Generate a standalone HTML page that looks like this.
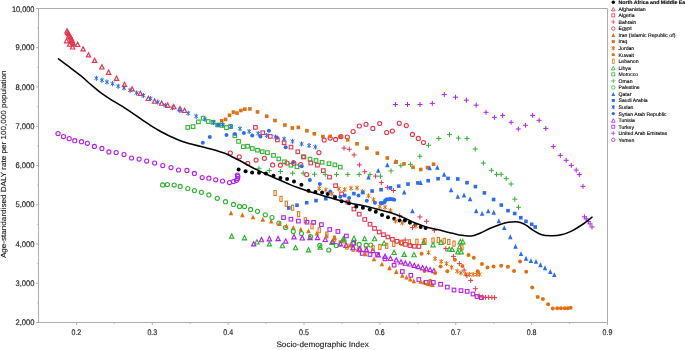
<!DOCTYPE html>
<html><head><meta charset="utf-8"><title>chart</title>
<style>html,body{margin:0;padding:0;background:#fff}svg{display:block}text{font-family:"Liberation Sans",sans-serif;text-rendering:geometricPrecision}</style></head>
<body>
<svg width="685" height="350" viewBox="0 0 685 350" style="will-change:transform;transform:translateZ(0)">
<rect width="685" height="350" fill="#fff"/>
<path d="M38.5 8.5H607.5V322.5H38.5Z" fill="none" stroke="#adadad" stroke-width="1"/>
<path d="M38.5 322.50h-2.4M38.5 302.88h-1.2M38.5 283.25h-2.4M38.5 263.62h-1.2M38.5 244.00h-2.4M38.5 224.38h-1.2M38.5 204.75h-2.4M38.5 185.12h-1.2M38.5 165.50h-2.4M38.5 145.88h-1.2M38.5 126.25h-2.4M38.5 106.62h-1.2M38.5 87.00h-2.4M38.5 67.38h-1.2M38.5 47.75h-2.4M38.5 28.12h-1.2M38.5 8.50h-2.4M76.43 322.5v2.4M114.37 322.5v1.2M152.30 322.5v2.4M190.23 322.5v1.2M228.17 322.5v2.4M266.10 322.5v1.2M304.03 322.5v2.4M341.97 322.5v1.2M379.90 322.5v2.4M417.83 322.5v1.2M455.77 322.5v2.4M493.70 322.5v1.2M531.63 322.5v2.4M569.57 322.5v1.2M607.50 322.5v2.4" fill="none" stroke="#adadad" stroke-width="1"/>
<g font-size="8.1" fill="#1a1a1a" stroke="#1a1a1a" stroke-width="0.15">
<text x="15.5" y="325.0" textLength="19.0" lengthAdjust="spacingAndGlyphs">2,000</text>
<text x="15.5" y="285.8" textLength="19.0" lengthAdjust="spacingAndGlyphs">3,000</text>
<text x="15.5" y="246.5" textLength="19.0" lengthAdjust="spacingAndGlyphs">4,000</text>
<text x="15.5" y="207.2" textLength="19.0" lengthAdjust="spacingAndGlyphs">5,000</text>
<text x="15.5" y="168.0" textLength="19.0" lengthAdjust="spacingAndGlyphs">6,000</text>
<text x="15.5" y="128.8" textLength="19.0" lengthAdjust="spacingAndGlyphs">7,000</text>
<text x="15.5" y="89.5" textLength="19.0" lengthAdjust="spacingAndGlyphs">8,000</text>
<text x="15.5" y="50.2" textLength="19.0" lengthAdjust="spacingAndGlyphs">9,000</text>
<text x="11.9" y="12.1" textLength="22.6" lengthAdjust="spacingAndGlyphs">10,000</text>
<text x="71.5" y="334.8" textLength="9.8" lengthAdjust="spacingAndGlyphs">0.2</text>
<text x="147.4" y="334.8" textLength="9.8" lengthAdjust="spacingAndGlyphs">0.3</text>
<text x="223.3" y="334.8" textLength="9.8" lengthAdjust="spacingAndGlyphs">0.4</text>
<text x="299.1" y="334.8" textLength="9.8" lengthAdjust="spacingAndGlyphs">0.5</text>
<text x="375.0" y="334.8" textLength="9.8" lengthAdjust="spacingAndGlyphs">0.6</text>
<text x="450.9" y="334.8" textLength="9.8" lengthAdjust="spacingAndGlyphs">0.7</text>
<text x="526.7" y="334.8" textLength="9.8" lengthAdjust="spacingAndGlyphs">0.8</text>
<text x="602.6" y="334.8" textLength="9.8" lengthAdjust="spacingAndGlyphs">0.9</text>
</g>
<text x="322.6" y="347.2" font-size="8" fill="#1a1a1a" stroke="#1a1a1a" stroke-width="0.12" text-anchor="middle" textLength="92.3" lengthAdjust="spacingAndGlyphs">Socio-demographic Index</text>
<text transform="translate(6.1 164.3) rotate(-90)" font-size="7.4" fill="#1a1a1a" stroke="#1a1a1a" stroke-width="0.12" text-anchor="middle" textLength="187.5" lengthAdjust="spacingAndGlyphs">Age-standardised DALY rate per 100,000 population</text>
<g><circle cx="58" cy="133.5" r="2.05" fill="none" stroke="#b31ff2" stroke-width="1.1"/><circle cx="63.5" cy="136.6" r="2.05" fill="none" stroke="#b31ff2" stroke-width="1.1"/><path d="M66.6 38.6L68.75 42.8L64.45 42.8Z" fill="none" stroke="#e8334c" stroke-width="1.15"/><path d="M67 28.8L69.15 33L64.85 33Z" fill="none" stroke="#e8334c" stroke-width="1.15"/><path d="M67.6 30.1L69.75 34.3L65.45 34.3Z" fill="none" stroke="#e8334c" stroke-width="1.15"/><path d="M68.4 31.5L70.55 35.7L66.25 35.7Z" fill="none" stroke="#e8334c" stroke-width="1.15"/><path d="M69.2 32.9L71.35 37.1L67.05 37.1Z" fill="none" stroke="#e8334c" stroke-width="1.15"/><circle cx="69.2" cy="138.6" r="2.05" fill="none" stroke="#b31ff2" stroke-width="1.1"/><path d="M69.6 42L71.75 46.2L67.45 46.2Z" fill="none" stroke="#e8334c" stroke-width="1.15"/><path d="M70 34.3L72.15 38.5L67.85 38.5Z" fill="none" stroke="#e8334c" stroke-width="1.15"/><path d="M70.8 35.7L72.95 39.9L68.65 39.9Z" fill="none" stroke="#e8334c" stroke-width="1.15"/><path d="M71.5 37.1L73.65 41.3L69.35 41.3Z" fill="none" stroke="#e8334c" stroke-width="1.15"/><path d="M72.1 38.5L74.25 42.7L69.95 42.7Z" fill="none" stroke="#e8334c" stroke-width="1.15"/><path d="M72.6 40.1L74.75 44.3L70.45 44.3Z" fill="none" stroke="#e8334c" stroke-width="1.15"/><path d="M72.6 44.8L74.75 49L70.45 49Z" fill="none" stroke="#e8334c" stroke-width="1.15"/><path d="M73.2 41.7L75.35 45.9L71.05 45.9Z" fill="none" stroke="#e8334c" stroke-width="1.15"/><circle cx="74.7" cy="140.7" r="2.05" fill="none" stroke="#b31ff2" stroke-width="1.1"/><path d="M77.6 42.3L79.75 46.5L75.45 46.5Z" fill="none" stroke="#e8334c" stroke-width="1.15"/><circle cx="81.5" cy="141.7" r="2.05" fill="none" stroke="#b31ff2" stroke-width="1.1"/><path d="M83.1 46.7L85.25 50.9L80.95 50.9Z" fill="none" stroke="#e8334c" stroke-width="1.15"/><circle cx="87.4" cy="143.3" r="2.05" fill="none" stroke="#b31ff2" stroke-width="1.1"/><path d="M88.5 52.7L90.65 56.9L86.35 56.9Z" fill="none" stroke="#e8334c" stroke-width="1.15"/><circle cx="94.4" cy="146.4" r="2.05" fill="none" stroke="#b31ff2" stroke-width="1.1"/><path d="M94.6 58.2L96.75 62.4L92.45 62.4Z" fill="none" stroke="#e8334c" stroke-width="1.15"/><path d="M96.4 75.7V80.7" fill="none" stroke="#2b6cf2" stroke-width="1.15"/><path d="M94.45 76.65L98.35 79.75M94.45 79.75L98.35 76.65" fill="none" stroke="#2b6cf2" stroke-width="1"/><path d="M101.9 64.8L104.05 69L99.75 69Z" fill="none" stroke="#e8334c" stroke-width="1.15"/><path d="M101.9 77.7V82.7" fill="none" stroke="#2b6cf2" stroke-width="1.15"/><path d="M99.95 78.65L103.85 81.75M99.95 81.75L103.85 78.65" fill="none" stroke="#2b6cf2" stroke-width="1"/><circle cx="101.9" cy="148.4" r="2.05" fill="none" stroke="#b31ff2" stroke-width="1.1"/><path d="M107 79.6V84.6" fill="none" stroke="#2b6cf2" stroke-width="1.15"/><path d="M105.05 80.55L108.95 83.65M105.05 83.65L108.95 80.55" fill="none" stroke="#2b6cf2" stroke-width="1"/><path d="M108.6 70.1L110.75 74.3L106.45 74.3Z" fill="none" stroke="#e8334c" stroke-width="1.15"/><circle cx="108.9" cy="151.9" r="2.05" fill="none" stroke="#b31ff2" stroke-width="1.1"/><path d="M112.5 81.2V86.2" fill="none" stroke="#2b6cf2" stroke-width="1.15"/><path d="M110.55 82.15L114.45 85.25M110.55 85.25L114.45 82.15" fill="none" stroke="#2b6cf2" stroke-width="1"/><circle cx="116.2" cy="152.5" r="2.05" fill="none" stroke="#b31ff2" stroke-width="1.1"/><path d="M116.5 76.1L118.65 80.3L114.35 80.3Z" fill="none" stroke="#e8334c" stroke-width="1.15"/><path d="M118.2 83.7V88.7" fill="none" stroke="#2b6cf2" stroke-width="1.15"/><path d="M116.25 84.65L120.15 87.75M116.25 87.75L120.15 84.65" fill="none" stroke="#2b6cf2" stroke-width="1"/><path d="M124 85.5V90.5" fill="none" stroke="#2b6cf2" stroke-width="1.15"/><path d="M122.05 86.45L125.95 89.55M122.05 89.55L125.95 86.45" fill="none" stroke="#2b6cf2" stroke-width="1"/><circle cx="124" cy="154.6" r="2.05" fill="none" stroke="#b31ff2" stroke-width="1.1"/><path d="M124.5 82.2L126.65 86.4L122.35 86.4Z" fill="none" stroke="#e8334c" stroke-width="1.15"/><path d="M130.1 87.8V92.8" fill="none" stroke="#2b6cf2" stroke-width="1.15"/><path d="M128.15 88.75L132.05 91.85M128.15 91.85L132.05 88.75" fill="none" stroke="#2b6cf2" stroke-width="1"/><circle cx="131.6" cy="158" r="2.05" fill="none" stroke="#b31ff2" stroke-width="1.1"/></g>
<g><path d="M132.1 86.7L134.25 90.9L129.95 90.9Z" fill="none" stroke="#e8334c" stroke-width="1.15"/><path d="M136.6 90.4V95.4" fill="none" stroke="#2b6cf2" stroke-width="1.15"/><path d="M134.65 91.35L138.55 94.45M134.65 94.45L138.55 91.35" fill="none" stroke="#2b6cf2" stroke-width="1"/><circle cx="139.1" cy="159.1" r="2.05" fill="none" stroke="#b31ff2" stroke-width="1.1"/><path d="M140.3 91.2L142.45 95.4L138.15 95.4Z" fill="none" stroke="#e8334c" stroke-width="1.15"/><path d="M143.4 92.9V97.9" fill="none" stroke="#2b6cf2" stroke-width="1.15"/><path d="M141.45 93.85L145.35 96.95M141.45 96.95L145.35 93.85" fill="none" stroke="#2b6cf2" stroke-width="1"/><circle cx="146.7" cy="161.1" r="2.05" fill="none" stroke="#b31ff2" stroke-width="1.1"/><path d="M148.3 96.3L150.45 100.5L146.15 100.5Z" fill="none" stroke="#e8334c" stroke-width="1.15"/><path d="M150.5 96.1V101.1" fill="none" stroke="#2b6cf2" stroke-width="1.15"/><path d="M148.55 97.05L152.45 100.15M148.55 100.15L152.45 97.05" fill="none" stroke="#2b6cf2" stroke-width="1"/><path d="M154.6 99L156.75 103.2L152.45 103.2Z" fill="none" stroke="#e8334c" stroke-width="1.15"/><circle cx="154.6" cy="163" r="2.05" fill="none" stroke="#b31ff2" stroke-width="1.1"/><path d="M157.7 99.6V104.6" fill="none" stroke="#2b6cf2" stroke-width="1.15"/><path d="M155.75 100.55L159.65 103.65M155.75 103.65L159.65 100.55" fill="none" stroke="#2b6cf2" stroke-width="1"/><path d="M161.6 101L163.75 105.2L159.45 105.2Z" fill="none" stroke="#e8334c" stroke-width="1.15"/><circle cx="162.6" cy="184.9" r="2.05" fill="none" stroke="#2db52d" stroke-width="1.1"/><circle cx="162.8" cy="165.6" r="2.05" fill="none" stroke="#b31ff2" stroke-width="1.1"/><path d="M165.3 102.7V107.7" fill="none" stroke="#2b6cf2" stroke-width="1.15"/><path d="M163.35 103.65L167.25 106.75M163.35 106.75L167.25 103.65" fill="none" stroke="#2b6cf2" stroke-width="1"/><circle cx="167.4" cy="184.5" r="2.05" fill="none" stroke="#2db52d" stroke-width="1.1"/><path d="M167.7 103.1L169.85 107.3L165.55 107.3Z" fill="none" stroke="#e8334c" stroke-width="1.15"/><circle cx="171" cy="167.6" r="2.05" fill="none" stroke="#b31ff2" stroke-width="1.1"/><path d="M172.4 105.3V110.3" fill="none" stroke="#2b6cf2" stroke-width="1.15"/><path d="M170.45 106.25L174.35 109.35M170.45 109.35L174.35 106.25" fill="none" stroke="#2b6cf2" stroke-width="1"/><path d="M173.8 104.5L175.95 108.7L171.65 108.7Z" fill="none" stroke="#e8334c" stroke-width="1.15"/><circle cx="174.2" cy="185.1" r="2.05" fill="none" stroke="#2db52d" stroke-width="1.1"/><circle cx="178.5" cy="170" r="2.05" fill="none" stroke="#b31ff2" stroke-width="1.1"/><path d="M180 106.5L182.15 110.7L177.85 110.7Z" fill="none" stroke="#e8334c" stroke-width="1.15"/><path d="M180 108V113" fill="none" stroke="#2b6cf2" stroke-width="1.15"/><path d="M178.05 108.95L181.95 112.05M178.05 112.05L181.95 108.95" fill="none" stroke="#2b6cf2" stroke-width="1"/><circle cx="180.2" cy="186.4" r="2.05" fill="none" stroke="#2db52d" stroke-width="1.1"/><path d="M184.5 108.3L186.65 112.5L182.35 112.5Z" fill="none" stroke="#e8334c" stroke-width="1.15"/><circle cx="186.9" cy="170.4" r="2.05" fill="none" stroke="#b31ff2" stroke-width="1.1"/><rect x="186" y="125.6" width="3.6" height="3.6" fill="none" stroke="#2db52d" stroke-width="1.1"/><circle cx="187.8" cy="188.5" r="2.05" fill="none" stroke="#2db52d" stroke-width="1.1"/><path d="M188.2 110.7V115.7" fill="none" stroke="#2b6cf2" stroke-width="1.15"/><path d="M186.25 111.65L190.15 114.75M186.25 114.75L190.15 111.65" fill="none" stroke="#2b6cf2" stroke-width="1"/><rect x="191.3" y="124.8" width="3.6" height="3.6" fill="none" stroke="#2db52d" stroke-width="1.1"/><circle cx="194.4" cy="190.5" r="2.05" fill="none" stroke="#2db52d" stroke-width="1.1"/><circle cx="194.4" cy="173.4" r="2.05" fill="none" stroke="#b31ff2" stroke-width="1.1"/><path d="M196.2 113.8V118.8" fill="none" stroke="#2b6cf2" stroke-width="1.15"/><path d="M194.25 114.75L198.15 117.85M194.25 117.85L198.15 114.75" fill="none" stroke="#2b6cf2" stroke-width="1"/><rect x="196.6" y="120.1" width="3.6" height="3.6" fill="none" stroke="#2db52d" stroke-width="1.1"/><circle cx="201.4" cy="192.3" r="2.05" fill="none" stroke="#2db52d" stroke-width="1.1"/><circle cx="202.2" cy="177.6" r="2.05" fill="none" stroke="#b31ff2" stroke-width="1.1"/><circle cx="202.8" cy="142.8" r="2" fill="#2b6cf2"/><rect x="201.3" y="116.4" width="3.6" height="3.6" fill="none" stroke="#2db52d" stroke-width="1.1"/><path d="M204.9 116.8V121.8" fill="none" stroke="#2b6cf2" stroke-width="1.15"/><path d="M202.95 117.75L206.85 120.85M202.95 120.85L206.85 117.75" fill="none" stroke="#2b6cf2" stroke-width="1"/></g>
<g><rect x="206.4" y="119.7" width="3.6" height="3.6" fill="none" stroke="#2db52d" stroke-width="1.1"/><circle cx="208.9" cy="194.9" r="2.05" fill="none" stroke="#2db52d" stroke-width="1.1"/><circle cx="208.9" cy="178.2" r="2.05" fill="none" stroke="#b31ff2" stroke-width="1.1"/><circle cx="209.8" cy="137.1" r="2" fill="#2b6cf2"/><rect x="211.2" y="120.4" width="3.6" height="3.6" fill="none" stroke="#2db52d" stroke-width="1.1"/><path d="M213.4 119.9V124.9" fill="none" stroke="#2b6cf2" stroke-width="1.15"/><path d="M211.45 120.85L215.35 123.95M211.45 123.95L215.35 120.85" fill="none" stroke="#2b6cf2" stroke-width="1"/><circle cx="215.7" cy="179.8" r="2.05" fill="none" stroke="#b31ff2" stroke-width="1.1"/><circle cx="217.3" cy="198.3" r="2.05" fill="none" stroke="#2db52d" stroke-width="1.1"/><rect x="215.8" y="123.2" width="3.6" height="3.6" fill="none" stroke="#2db52d" stroke-width="1.1"/><circle cx="218" cy="125.1" r="2" fill="#2b6cf2"/><rect x="219.9" y="119" width="3.6" height="3.6" fill="#e0700f"/><rect x="220.3" y="123.6" width="3.6" height="3.6" fill="none" stroke="#2db52d" stroke-width="1.1"/><circle cx="222.5" cy="181" r="2.05" fill="none" stroke="#b31ff2" stroke-width="1.1"/><path d="M222.6 122.2V127.2" fill="none" stroke="#2b6cf2" stroke-width="1.15"/><path d="M220.65 123.15L224.55 126.25M220.65 126.25L224.55 123.15" fill="none" stroke="#2b6cf2" stroke-width="1"/><circle cx="225.5" cy="201.7" r="2.05" fill="none" stroke="#2db52d" stroke-width="1.1"/><rect x="223.8" y="117.6" width="3.6" height="3.6" fill="#e0700f"/><rect x="224.7" y="125.8" width="3.6" height="3.6" fill="none" stroke="#2db52d" stroke-width="1.1"/><circle cx="226.5" cy="134.9" r="2" fill="#2b6cf2"/><rect x="227.7" y="113.5" width="3.6" height="3.6" fill="#e0700f"/><circle cx="229.5" cy="182.6" r="2.05" fill="none" stroke="#b31ff2" stroke-width="1.1"/><circle cx="230.3" cy="153" r="2.05" fill="none" stroke="#e8334c" stroke-width="1.1"/><rect x="228.7" y="124.8" width="3.6" height="3.6" fill="none" stroke="#2db52d" stroke-width="1.1"/><path d="M231 210.35L233.25 215.25L228.75 215.25Z" fill="#e0700f"/><path d="M231 124.1V129.1" fill="none" stroke="#2b6cf2" stroke-width="1.15"/><path d="M229.05 125.05L232.95 128.15M229.05 128.15L232.95 125.05" fill="none" stroke="#2b6cf2" stroke-width="1"/><path d="M231.7 233.9L233.85 238.1L229.55 238.1Z" fill="none" stroke="#2db52d" stroke-width="1.15"/><rect x="231.6" y="110.3" width="3.6" height="3.6" fill="#e0700f"/><circle cx="233.5" cy="204.4" r="2.05" fill="none" stroke="#2db52d" stroke-width="1.1"/><circle cx="233.5" cy="181.6" r="2.05" fill="none" stroke="#b31ff2" stroke-width="1.1"/><rect x="233" y="133.8" width="3.6" height="3.6" fill="none" stroke="#2db52d" stroke-width="1.1"/><circle cx="234.9" cy="134" r="2" fill="#2b6cf2"/><circle cx="236.4" cy="180.3" r="2.05" fill="none" stroke="#b31ff2" stroke-width="1.1"/><rect x="235.2" y="111.3" width="3.6" height="3.6" fill="#e0700f"/><circle cx="237.4" cy="175" r="2.05" fill="none" stroke="#b31ff2" stroke-width="1.1"/><circle cx="237.6" cy="178.4" r="2.05" fill="none" stroke="#b31ff2" stroke-width="1.1"/><circle cx="237.9" cy="176.3" r="2.05" fill="none" stroke="#b31ff2" stroke-width="1.1"/><rect x="236.7" y="139.6" width="3.6" height="3.6" fill="none" stroke="#2db52d" stroke-width="1.1"/><circle cx="238.6" cy="169.6" r="2" fill="#000"/><circle cx="239.3" cy="156.8" r="2.05" fill="none" stroke="#e8334c" stroke-width="1.1"/><circle cx="239.5" cy="206.4" r="2.05" fill="none" stroke="#2db52d" stroke-width="1.1"/><path d="M240 126.2V131.2" fill="none" stroke="#2b6cf2" stroke-width="1.15"/><path d="M238.05 127.15L241.95 130.25M238.05 130.25L241.95 127.15" fill="none" stroke="#2b6cf2" stroke-width="1"/></g>
<g><rect x="239.1" y="108.7" width="3.6" height="3.6" fill="#e0700f"/><path d="M242.4 212.35L244.65 217.25L240.15 217.25Z" fill="#e0700f"/><rect x="241.5" y="144.9" width="3.6" height="3.6" fill="none" stroke="#2db52d" stroke-width="1.1"/><circle cx="243.9" cy="133.1" r="2" fill="#2b6cf2"/><path d="M244.5 235.6L246.65 239.8L242.35 239.8Z" fill="none" stroke="#2db52d" stroke-width="1.15"/><circle cx="244.5" cy="206.6" r="2.05" fill="none" stroke="#2db52d" stroke-width="1.1"/><rect x="243" y="107.4" width="3.6" height="3.6" fill="#e0700f"/><circle cx="245.6" cy="171.3" r="2" fill="#000"/><rect x="245.8" y="144.4" width="3.6" height="3.6" fill="none" stroke="#2db52d" stroke-width="1.1"/><circle cx="247.7" cy="163.3" r="2.05" fill="none" stroke="#e8334c" stroke-width="1.1"/><path d="M249.2 128.9V133.9" fill="none" stroke="#2b6cf2" stroke-width="1.15"/><path d="M247.25 129.85L251.15 132.95M247.25 132.95L251.15 129.85" fill="none" stroke="#2b6cf2" stroke-width="1"/><rect x="248.1" y="107.1" width="3.6" height="3.6" fill="#e0700f"/><circle cx="250.6" cy="209.4" r="2.05" fill="none" stroke="#2db52d" stroke-width="1.1"/><circle cx="252.1" cy="172.4" r="2" fill="#000"/><circle cx="252.2" cy="135.6" r="2" fill="#2b6cf2"/><rect x="250.5" y="146.7" width="3.6" height="3.6" fill="none" stroke="#2db52d" stroke-width="1.1"/><path d="M253 214.45L255.25 219.35L250.75 219.35Z" fill="#e0700f"/><path d="M253.7 241.7L255.85 245.9L251.55 245.9Z" fill="none" stroke="#b31ff2" stroke-width="1.15"/><rect x="253.6" y="125.6" width="3.6" height="3.6" fill="none" stroke="#e8334c" stroke-width="1.1"/><circle cx="256.1" cy="160.1" r="2.05" fill="none" stroke="#e8334c" stroke-width="1.1"/><path d="M256.9 239.8L259.05 244L254.75 244Z" fill="none" stroke="#2db52d" stroke-width="1.15"/><rect x="255.7" y="110.1" width="3.6" height="3.6" fill="#e0700f"/><rect x="255.7" y="148.4" width="3.6" height="3.6" fill="none" stroke="#2db52d" stroke-width="1.1"/><circle cx="257.5" cy="211.3" r="2.05" fill="none" stroke="#2db52d" stroke-width="1.1"/><path d="M258.2 130.9V135.9" fill="none" stroke="#2b6cf2" stroke-width="1.15"/><path d="M256.25 131.85L260.15 134.95M256.25 134.95L260.15 131.85" fill="none" stroke="#2b6cf2" stroke-width="1"/><circle cx="259" cy="172.8" r="2" fill="#000"/><path d="M256.5 168.3H261.5M259 165.8V170.8" fill="none" stroke="#2db52d" stroke-width="1"/><circle cx="260.4" cy="136.5" r="2" fill="#2b6cf2"/><path d="M261.5 237.5L263.65 241.7L259.35 241.7Z" fill="none" stroke="#b31ff2" stroke-width="1.15"/><rect x="260.4" y="149.9" width="3.6" height="3.6" fill="none" stroke="#2db52d" stroke-width="1.1"/><rect x="261" y="130.9" width="3.6" height="3.6" fill="none" stroke="#e8334c" stroke-width="1.1"/><path d="M262.8 216.75L265.05 221.65L260.55 221.65Z" fill="#e0700f"/><circle cx="264.4" cy="158.3" r="2.05" fill="none" stroke="#e8334c" stroke-width="1.1"/><circle cx="265.3" cy="214.8" r="2.05" fill="none" stroke="#2db52d" stroke-width="1.1"/><circle cx="265.9" cy="173.4" r="2" fill="#000"/><rect x="264.9" y="114.4" width="3.6" height="3.6" fill="#e0700f"/><path d="M266.7 132.9V137.9" fill="none" stroke="#2b6cf2" stroke-width="1.15"/><path d="M264.75 133.85L268.65 136.95M264.75 136.95L268.65 133.85" fill="none" stroke="#2b6cf2" stroke-width="1"/><rect x="265.6" y="150.8" width="3.6" height="3.6" fill="none" stroke="#2db52d" stroke-width="1.1"/><circle cx="268.9" cy="130.8" r="2" fill="#2b6cf2"/><path d="M266.8 170.6H271.8M269.3 168.1V173.1" fill="none" stroke="#2db52d" stroke-width="1"/></g>
<g><path d="M269.4 241.7L271.55 245.9L267.25 245.9Z" fill="none" stroke="#2db52d" stroke-width="1.15"/><path d="M269.4 236.6L271.55 240.8L267.25 240.8Z" fill="none" stroke="#b31ff2" stroke-width="1.15"/><rect x="268.5" y="134.6" width="3.6" height="3.6" fill="none" stroke="#e8334c" stroke-width="1.1"/><path d="M271.2 218.65L273.45 223.55L268.95 223.55Z" fill="#e0700f"/><circle cx="272" cy="217.6" r="2.05" fill="none" stroke="#2db52d" stroke-width="1.1"/><circle cx="272.6" cy="164.9" r="2.05" fill="none" stroke="#e8334c" stroke-width="1.1"/><circle cx="273.5" cy="175.7" r="2" fill="#000"/><rect x="271.7" y="153.6" width="3.6" height="3.6" fill="none" stroke="#2db52d" stroke-width="1.1"/><rect x="273.2" y="118.7" width="3.6" height="3.6" fill="#e0700f"/><rect x="273.98" y="190.45" width="2.24" height="5.1" fill="none" stroke="#e0700f" stroke-width="1"/><path d="M275.4 134.5V139.5" fill="none" stroke="#2b6cf2" stroke-width="1.15"/><path d="M273.45 135.45L277.35 138.55M273.45 138.55L277.35 135.45" fill="none" stroke="#2b6cf2" stroke-width="1"/><circle cx="277" cy="137.8" r="2" fill="#2b6cf2"/><rect x="275.6" y="138.1" width="3.6" height="3.6" fill="none" stroke="#e8334c" stroke-width="1.1"/><path d="M278.1 236.4L280.25 240.6L275.95 240.6Z" fill="none" stroke="#b31ff2" stroke-width="1.15"/><rect x="277" y="157.1" width="3.6" height="3.6" fill="none" stroke="#2db52d" stroke-width="1.1"/><circle cx="278.9" cy="223" r="2.05" fill="none" stroke="#2db52d" stroke-width="1.1"/><path d="M279.4 221.05L281.65 225.95L277.15 225.95Z" fill="#e0700f"/><circle cx="280.4" cy="178" r="2" fill="#000"/><circle cx="280.4" cy="165.2" r="2.05" fill="none" stroke="#e8334c" stroke-width="1.1"/><path d="M277.9 171.5H282.9M280.4 169V174" fill="none" stroke="#2db52d" stroke-width="1"/><rect x="279.88" y="196.35" width="2.24" height="5.1" fill="none" stroke="#e0700f" stroke-width="1"/><path d="M282.4 243.5L284.55 247.7L280.25 247.7Z" fill="none" stroke="#2db52d" stroke-width="1.15"/><rect x="281.7" y="215.8" width="3.6" height="3.6" fill="none" stroke="#b31ff2" stroke-width="1.1"/><rect x="282.3" y="141" width="3.6" height="3.6" fill="none" stroke="#e8334c" stroke-width="1.1"/><path d="M284.1 136.4V141.4" fill="none" stroke="#2b6cf2" stroke-width="1.15"/><path d="M282.15 137.35L286.05 140.45M282.15 140.45L286.05 137.35" fill="none" stroke="#2b6cf2" stroke-width="1"/><rect x="282.7" y="160" width="3.6" height="3.6" fill="none" stroke="#2db52d" stroke-width="1.1"/><rect x="283.1" y="123.2" width="3.6" height="3.6" fill="#e0700f"/><circle cx="285.5" cy="227.6" r="2.05" fill="none" stroke="#2db52d" stroke-width="1.1"/><circle cx="285.7" cy="147.3" r="2" fill="#2b6cf2"/><path d="M285.7 238.9L287.85 243.1L283.55 243.1Z" fill="none" stroke="#b31ff2" stroke-width="1.15"/><rect x="285.18" y="201.15" width="2.24" height="5.1" fill="none" stroke="#e0700f" stroke-width="1"/><path d="M286.4 223.45L288.65 228.35L284.15 228.35Z" fill="#e0700f"/><circle cx="287" cy="163" r="2.05" fill="none" stroke="#e8334c" stroke-width="1.1"/><circle cx="287.1" cy="178.9" r="2" fill="#000"/><rect x="287" y="206.2" width="3.6" height="3.6" fill="#2b6cf2"/><rect x="289.1" y="163.4" width="3.6" height="3.6" fill="none" stroke="#2db52d" stroke-width="1.1"/><rect x="289.1" y="217.4" width="3.6" height="3.6" fill="none" stroke="#b31ff2" stroke-width="1.1"/><rect x="289.2" y="145.3" width="3.6" height="3.6" fill="none" stroke="#e8334c" stroke-width="1.1"/><rect x="290.6" y="126.2" width="3.6" height="3.6" fill="#e0700f"/><path d="M292.5 138.7V143.7" fill="none" stroke="#2b6cf2" stroke-width="1.15"/><path d="M290.55 139.65L294.45 142.75M290.55 142.75L294.45 139.65" fill="none" stroke="#2b6cf2" stroke-width="1"/></g>
<g><rect x="291.48" y="205.15" width="2.24" height="5.1" fill="none" stroke="#e0700f" stroke-width="1"/><path d="M290.1 173.2H295.1M292.6 170.7V175.7" fill="none" stroke="#2db52d" stroke-width="1"/><path d="M293.3 224.95L295.55 229.85L291.05 229.85Z" fill="#e0700f"/><circle cx="293.3" cy="231.4" r="2.05" fill="none" stroke="#2db52d" stroke-width="1.1"/><circle cx="293.4" cy="162" r="2" fill="#2b6cf2"/><circle cx="293.8" cy="163.2" r="2.05" fill="none" stroke="#e8334c" stroke-width="1.1"/><circle cx="294" cy="181.6" r="2" fill="#000"/><path d="M294 234.6L296.15 238.8L291.85 238.8Z" fill="none" stroke="#b31ff2" stroke-width="1.15"/><path d="M295.5 245.5L297.65 249.7L293.35 249.7Z" fill="none" stroke="#2db52d" stroke-width="1.15"/><rect x="295.2" y="165" width="3.6" height="3.6" fill="none" stroke="#2db52d" stroke-width="1.1"/><rect x="295.2" y="203.4" width="3.6" height="3.6" fill="#2b6cf2"/><rect x="296" y="150" width="3.6" height="3.6" fill="none" stroke="#e8334c" stroke-width="1.1"/><rect x="296.5" y="125.6" width="3.6" height="3.6" fill="#e0700f"/><rect x="296.6" y="219.3" width="3.6" height="3.6" fill="none" stroke="#b31ff2" stroke-width="1.1"/><rect x="297.48" y="211.65" width="2.24" height="5.1" fill="none" stroke="#e0700f" stroke-width="1"/><circle cx="300.7" cy="164.6" r="2.05" fill="none" stroke="#e8334c" stroke-width="1.1"/><path d="M300.8 226.65L303.05 231.55L298.55 231.55Z" fill="#e0700f"/><circle cx="301.4" cy="184.7" r="2" fill="#000"/><circle cx="301.5" cy="233.6" r="2.05" fill="none" stroke="#2db52d" stroke-width="1.1"/><path d="M301.6 141.5V146.5" fill="none" stroke="#2b6cf2" stroke-width="1.15"/><path d="M299.65 142.45L303.55 145.55M299.65 145.55L303.55 142.45" fill="none" stroke="#2b6cf2" stroke-width="1"/><circle cx="301.7" cy="166.3" r="2" fill="#2b6cf2"/><path d="M302.3 235.8L304.45 240L300.15 240Z" fill="none" stroke="#b31ff2" stroke-width="1.15"/><rect x="301.4" y="155.1" width="3.6" height="3.6" fill="none" stroke="#2db52d" stroke-width="1.1"/><path d="M300.7 173.1H305.7M303.2 170.6V175.6" fill="none" stroke="#2db52d" stroke-width="1"/><rect x="302.1" y="155.1" width="3.6" height="3.6" fill="none" stroke="#e8334c" stroke-width="1.1"/><rect x="304.18" y="217.75" width="2.24" height="5.1" fill="none" stroke="#e0700f" stroke-width="1"/><circle cx="306.7" cy="174.5" r="2.05" fill="none" stroke="#e8334c" stroke-width="1.1"/><rect x="304.9" y="200.9" width="3.6" height="3.6" fill="#2b6cf2"/><rect x="305.1" y="128.9" width="3.6" height="3.6" fill="#e0700f"/><rect x="305.2" y="220.4" width="3.6" height="3.6" fill="none" stroke="#b31ff2" stroke-width="1.1"/><circle cx="308.5" cy="190.7" r="2" fill="#000"/><path d="M308.5 228.35L310.75 233.25L306.25 233.25Z" fill="#e0700f"/><path d="M308.5 247.7L310.65 251.9L306.35 251.9Z" fill="none" stroke="#2db52d" stroke-width="1.15"/><path d="M309.1 143.1V148.1" fill="none" stroke="#2b6cf2" stroke-width="1.15"/><path d="M307.15 144.05L311.05 147.15M307.15 147.15L311.05 144.05" fill="none" stroke="#2b6cf2" stroke-width="1"/><circle cx="309.9" cy="180.1" r="2" fill="#2b6cf2"/><rect x="308.2" y="157.3" width="3.6" height="3.6" fill="none" stroke="#2db52d" stroke-width="1.1"/><path d="M310 235.4L312.15 239.6L307.85 239.6Z" fill="none" stroke="#b31ff2" stroke-width="1.15"/><circle cx="310.5" cy="236.5" r="2.05" fill="none" stroke="#2db52d" stroke-width="1.1"/><rect x="308.9" y="161.2" width="3.6" height="3.6" fill="none" stroke="#e8334c" stroke-width="1.1"/><rect x="310.88" y="223.65" width="2.24" height="5.1" fill="none" stroke="#e0700f" stroke-width="1"/></g>
<g><rect x="311.8" y="220.6" width="3.6" height="3.6" fill="none" stroke="#b31ff2" stroke-width="1.1"/><rect x="312.5" y="132" width="3.6" height="3.6" fill="#e0700f"/><path d="M312 174.2H317M314.5 171.7V176.7" fill="none" stroke="#2db52d" stroke-width="1"/><circle cx="315.4" cy="192" r="2" fill="#000"/><path d="M315.4 144.5V149.5" fill="none" stroke="#2b6cf2" stroke-width="1.15"/><path d="M313.45 145.45L317.35 148.55M313.45 148.55L317.35 145.45" fill="none" stroke="#2b6cf2" stroke-width="1"/><rect x="314.2" y="158.7" width="3.6" height="3.6" fill="none" stroke="#2db52d" stroke-width="1.1"/><rect x="314.2" y="198.8" width="3.6" height="3.6" fill="#2b6cf2"/><path d="M316.9 230.55L319.15 235.45L314.65 235.45Z" fill="#e0700f"/><rect x="315.6" y="163.4" width="3.6" height="3.6" fill="none" stroke="#e8334c" stroke-width="1.1"/><path d="M317.5 235.4L319.65 239.6L315.35 239.6Z" fill="none" stroke="#b31ff2" stroke-width="1.15"/><circle cx="318.9" cy="152.6" r="2.05" fill="none" stroke="#e8334c" stroke-width="1.1"/><path d="M319.2 186V191" fill="none" stroke="#e0700f" stroke-width="1.15"/><path d="M317.25 186.95L321.15 190.05M317.25 190.05L321.15 186.95" fill="none" stroke="#e0700f" stroke-width="1"/><rect x="318.08" y="227.65" width="2.24" height="5.1" fill="none" stroke="#e0700f" stroke-width="1"/><circle cx="319.8" cy="245.4" r="2.05" fill="none" stroke="#2db52d" stroke-width="1.1"/><circle cx="319.8" cy="184.1" r="2" fill="#2b6cf2"/><path d="M320.2 244.9L322.35 249.1L318.05 249.1Z" fill="none" stroke="#2db52d" stroke-width="1.15"/><rect x="319.6" y="222.8" width="3.6" height="3.6" fill="none" stroke="#b31ff2" stroke-width="1.1"/><circle cx="322.1" cy="192.6" r="2" fill="#000"/><rect x="320.3" y="160.5" width="3.6" height="3.6" fill="none" stroke="#2db52d" stroke-width="1.1"/><rect x="321.1" y="134.8" width="3.6" height="3.6" fill="#e0700f"/><rect x="321.5" y="168.8" width="3.6" height="3.6" fill="none" stroke="#e8334c" stroke-width="1.1"/><circle cx="324.2" cy="140.1" r="2.05" fill="none" stroke="#e8334c" stroke-width="1.1"/><path d="M322.7 174.4H327.7M325.2 171.9V176.9" fill="none" stroke="#2db52d" stroke-width="1"/><path d="M325.3 237.3L327.45 241.5L323.15 241.5Z" fill="none" stroke="#b31ff2" stroke-width="1.15"/><path d="M325.8 187.4V192.4" fill="none" stroke="#e0700f" stroke-width="1.15"/><path d="M323.85 188.35L327.75 191.45M323.85 191.45L327.75 188.35" fill="none" stroke="#e0700f" stroke-width="1"/><rect x="324" y="196.9" width="3.6" height="3.6" fill="#2b6cf2"/><path d="M326.4 233.25L328.65 238.15L324.15 238.15Z" fill="#e0700f"/><rect x="325.68" y="232.05" width="2.24" height="5.1" fill="none" stroke="#e0700f" stroke-width="1"/><circle cx="327.7" cy="193.9" r="2" fill="#000"/><circle cx="328.8" cy="250.1" r="2.05" fill="none" stroke="#2db52d" stroke-width="1.1"/><rect x="327.2" y="161.9" width="3.6" height="3.6" fill="none" stroke="#2db52d" stroke-width="1.1"/><rect x="327.7" y="175.3" width="3.6" height="3.6" fill="none" stroke="#e8334c" stroke-width="1.1"/><rect x="327.9" y="227.7" width="3.6" height="3.6" fill="none" stroke="#b31ff2" stroke-width="1.1"/><circle cx="330.2" cy="138.1" r="2.05" fill="none" stroke="#e8334c" stroke-width="1.1"/><rect x="328.4" y="134.6" width="3.6" height="3.6" fill="#e0700f"/><circle cx="330.2" cy="191.6" r="2" fill="#2b6cf2"/><path d="M331.9 191.4V196.4" fill="none" stroke="#e0700f" stroke-width="1.15"/><path d="M329.95 192.35L333.85 195.45M329.95 195.45L333.85 192.35" fill="none" stroke="#e0700f" stroke-width="1"/><path d="M332 240.3L334.15 244.5L329.85 244.5Z" fill="none" stroke="#2db52d" stroke-width="1.15"/><path d="M332.8 239.3L334.95 243.5L330.65 243.5Z" fill="none" stroke="#b31ff2" stroke-width="1.15"/><rect x="333.38" y="236.05" width="2.24" height="5.1" fill="none" stroke="#e0700f" stroke-width="1"/></g>
<g><path d="M334.6 235.15L336.85 240.05L332.35 240.05Z" fill="#e0700f"/><rect x="333.1" y="163.1" width="3.6" height="3.6" fill="none" stroke="#2db52d" stroke-width="1.1"/><rect x="333.1" y="194.9" width="3.6" height="3.6" fill="#2b6cf2"/><circle cx="335" cy="197.5" r="2" fill="#000"/><rect x="333.8" y="183.9" width="3.6" height="3.6" fill="none" stroke="#e8334c" stroke-width="1.1"/><circle cx="335.6" cy="139.4" r="2.05" fill="none" stroke="#e8334c" stroke-width="1.1"/><circle cx="336.3" cy="245.5" r="2.05" fill="none" stroke="#2db52d" stroke-width="1.1"/><path d="M334 174.4H339M336.5 171.9V176.9" fill="none" stroke="#2db52d" stroke-width="1"/><rect x="336.1" y="229.7" width="3.6" height="3.6" fill="none" stroke="#b31ff2" stroke-width="1.1"/><path d="M338.8 186.4V191.4" fill="none" stroke="#e0700f" stroke-width="1.15"/><path d="M336.85 187.35L340.75 190.45M336.85 190.45L340.75 187.35" fill="none" stroke="#e0700f" stroke-width="1"/><rect x="339.08" y="240.85" width="2.24" height="5.1" fill="none" stroke="#e0700f" stroke-width="1"/><rect x="338.5" y="135.1" width="3.6" height="3.6" fill="#e0700f"/><rect x="338.5" y="165.3" width="3.6" height="3.6" fill="none" stroke="#2db52d" stroke-width="1.1"/><circle cx="340.3" cy="196.8" r="2" fill="#2b6cf2"/><path d="M340.3 241.6L342.45 245.8L338.15 245.8Z" fill="none" stroke="#b31ff2" stroke-width="1.15"/><circle cx="340.9" cy="136.6" r="2.05" fill="none" stroke="#e8334c" stroke-width="1.1"/><circle cx="341.6" cy="201.2" r="2" fill="#000"/><rect x="339.8" y="192.1" width="3.6" height="3.6" fill="none" stroke="#e8334c" stroke-width="1.1"/><path d="M343.3 237.05L345.55 241.95L341.05 241.95Z" fill="#e0700f"/><path d="M343.4 236.5L345.55 240.7L341.25 240.7Z" fill="none" stroke="#2db52d" stroke-width="1.15"/><path d="M341.5 148.1H346.5M344 145.6V150.6" fill="none" stroke="#e8334c" stroke-width="1"/><circle cx="344" cy="241" r="2.05" fill="none" stroke="#2db52d" stroke-width="1.1"/><path d="M344.7 187V192" fill="none" stroke="#e0700f" stroke-width="1.15"/><path d="M342.75 187.95L346.65 191.05M342.75 191.05L346.65 187.95" fill="none" stroke="#e0700f" stroke-width="1"/><rect x="342.9" y="193.7" width="3.6" height="3.6" fill="#2b6cf2"/><path d="M346 243.1L348.15 247.3L343.85 247.3Z" fill="none" stroke="#b31ff2" stroke-width="1.15"/><rect x="344.6" y="234.2" width="3.6" height="3.6" fill="none" stroke="#b31ff2" stroke-width="1.1"/><rect x="345.78" y="244.05" width="2.24" height="5.1" fill="none" stroke="#e0700f" stroke-width="1"/><circle cx="347.3" cy="137" r="2.05" fill="none" stroke="#e8334c" stroke-width="1.1"/><rect x="345.9" y="138" width="3.6" height="3.6" fill="#e0700f"/><rect x="346" y="200.3" width="3.6" height="3.6" fill="none" stroke="#e8334c" stroke-width="1.1"/><path d="M345.3 174.4H350.3M347.8 171.9V176.9" fill="none" stroke="#2db52d" stroke-width="1"/><circle cx="349.1" cy="203.3" r="2" fill="#000"/><circle cx="349.1" cy="197.9" r="2" fill="#2b6cf2"/><path d="M346.8 149.3H351.8M349.3 146.8V151.8" fill="none" stroke="#e8334c" stroke-width="1"/><path d="M350.2 242.55L352.45 247.45L347.95 247.45Z" fill="#e0700f"/><path d="M351 185.7V190.7" fill="none" stroke="#e0700f" stroke-width="1.15"/><path d="M349.05 186.65L352.95 189.75M349.05 189.75L352.95 186.65" fill="none" stroke="#e0700f" stroke-width="1"/><circle cx="352.8" cy="243.5" r="2.05" fill="none" stroke="#2db52d" stroke-width="1.1"/><circle cx="353.1" cy="131.5" r="2.05" fill="none" stroke="#e8334c" stroke-width="1.1"/><rect x="351.98" y="246.25" width="2.24" height="5.1" fill="none" stroke="#e0700f" stroke-width="1"/><path d="M353.1 245.5L355.25 249.7L350.95 249.7Z" fill="none" stroke="#b31ff2" stroke-width="1.15"/></g>
<g><rect x="352" y="241.4" width="3.6" height="3.6" fill="none" stroke="#b31ff2" stroke-width="1.1"/><rect x="352.1" y="207.3" width="3.6" height="3.6" fill="none" stroke="#e8334c" stroke-width="1.1"/><rect x="352.1" y="191.8" width="3.6" height="3.6" fill="#2b6cf2"/><path d="M354 236.1L356.15 240.3L351.85 240.3Z" fill="none" stroke="#2db52d" stroke-width="1.15"/><path d="M351.6 154.9H356.6M354.1 152.4V157.4" fill="none" stroke="#e8334c" stroke-width="1"/><circle cx="356.3" cy="206.5" r="2" fill="#000"/><rect x="355.2" y="142" width="3.6" height="3.6" fill="#e0700f"/><path d="M357 185.4V190.4" fill="none" stroke="#e0700f" stroke-width="1.15"/><path d="M355.05 186.35L358.95 189.45M355.05 189.45L358.95 186.35" fill="none" stroke="#e0700f" stroke-width="1"/><path d="M357.8 246.85L360.05 251.75L355.55 251.75Z" fill="#e0700f"/><circle cx="358.5" cy="195.5" r="2" fill="#2b6cf2"/><rect x="357.4" y="212.4" width="3.6" height="3.6" fill="none" stroke="#e8334c" stroke-width="1.1"/><path d="M356.7 174.4H361.7M359.2 171.9V176.9" fill="none" stroke="#2db52d" stroke-width="1"/><circle cx="359.2" cy="244.4" r="2.05" fill="none" stroke="#2db52d" stroke-width="1.1"/><circle cx="359.3" cy="126" r="2.05" fill="none" stroke="#e8334c" stroke-width="1.1"/><path d="M356.9 164.9H361.9M359.4 162.4V167.4" fill="none" stroke="#e8334c" stroke-width="1"/><rect x="358.58" y="246.95" width="2.24" height="5.1" fill="none" stroke="#e0700f" stroke-width="1"/><path d="M359.8 246.8L361.95 251L357.65 251Z" fill="none" stroke="#b31ff2" stroke-width="1.15"/><rect x="360.4" y="251.6" width="3.6" height="3.6" fill="none" stroke="#b31ff2" stroke-width="1.1"/><path d="M362.3 189.1V194.1" fill="none" stroke="#e0700f" stroke-width="1.15"/><path d="M360.35 190.05L364.25 193.15M360.35 193.15L364.25 190.05" fill="none" stroke="#e0700f" stroke-width="1"/><circle cx="362.9" cy="207.7" r="2" fill="#000"/><rect x="361.1" y="190.8" width="3.6" height="3.6" fill="#2b6cf2"/><path d="M364.6 236.4L366.75 240.6L362.45 240.6Z" fill="none" stroke="#2db52d" stroke-width="1.15"/><rect x="362.9" y="217.7" width="3.6" height="3.6" fill="none" stroke="#e8334c" stroke-width="1.1"/><path d="M362.2 171.7H367.2M364.7 169.2V174.2" fill="none" stroke="#e8334c" stroke-width="1"/><path d="M365.3 251.25L367.55 256.15L363.05 256.15Z" fill="#e0700f"/><circle cx="366" cy="124.3" r="2.05" fill="none" stroke="#e8334c" stroke-width="1.1"/><rect x="364.98" y="246.95" width="2.24" height="5.1" fill="none" stroke="#e0700f" stroke-width="1"/><circle cx="366.2" cy="245.2" r="2.05" fill="none" stroke="#2db52d" stroke-width="1.1"/><path d="M366.5 247.4L368.65 251.6L364.35 251.6Z" fill="none" stroke="#b31ff2" stroke-width="1.15"/><circle cx="366.8" cy="200.7" r="2" fill="#2b6cf2"/><rect x="365.1" y="146.3" width="3.6" height="3.6" fill="#e0700f"/><path d="M368.5 193.4V198.4" fill="none" stroke="#e0700f" stroke-width="1.15"/><path d="M366.55 194.35L370.45 197.45M366.55 197.45L370.45 194.35" fill="none" stroke="#e0700f" stroke-width="1"/><path d="M368.5 174.55L370.75 179.45L366.25 179.45Z" fill="#2b6cf2"/><circle cx="369.8" cy="209.4" r="2" fill="#000"/><rect x="368.2" y="222.4" width="3.6" height="3.6" fill="none" stroke="#e8334c" stroke-width="1.1"/><path d="M367.5 174.6H372.5M370 172.1V177.1" fill="none" stroke="#2db52d" stroke-width="1"/><rect x="368.2" y="252.7" width="3.6" height="3.6" fill="none" stroke="#b31ff2" stroke-width="1.1"/><circle cx="370.7" cy="245" r="2.05" fill="none" stroke="#2db52d" stroke-width="1.1"/><rect x="370.3" y="189.2" width="3.6" height="3.6" fill="#2b6cf2"/><circle cx="372.8" cy="128.4" r="2.05" fill="none" stroke="#e8334c" stroke-width="1.1"/></g>
<g><path d="M372.8 248.4L374.95 252.6L370.65 252.6Z" fill="none" stroke="#b31ff2" stroke-width="1.15"/><rect x="371.88" y="245.45" width="2.24" height="5.1" fill="none" stroke="#e0700f" stroke-width="1"/><path d="M373.5 197.3V202.3" fill="none" stroke="#e0700f" stroke-width="1.15"/><path d="M371.55 198.25L375.45 201.35M371.55 201.35L375.45 198.25" fill="none" stroke="#e0700f" stroke-width="1"/><path d="M374 256.45L376.25 261.35L371.75 261.35Z" fill="#e0700f"/><rect x="372.7" y="226.6" width="3.6" height="3.6" fill="none" stroke="#e8334c" stroke-width="1.1"/><path d="M374.6 236.5L376.75 240.7L372.45 240.7Z" fill="none" stroke="#2db52d" stroke-width="1.15"/><circle cx="375" cy="202.8" r="2" fill="#2b6cf2"/><path d="M373.1 176.1H378.1M375.6 173.6V178.6" fill="none" stroke="#e8334c" stroke-width="1"/><circle cx="375.8" cy="211.7" r="2" fill="#000"/><rect x="375.5" y="151.4" width="3.6" height="3.6" fill="#e0700f"/><rect x="375.7" y="252.7" width="3.6" height="3.6" fill="none" stroke="#b31ff2" stroke-width="1.1"/><path d="M378.2 167.95L380.45 172.85L375.95 172.85Z" fill="#2b6cf2"/><path d="M378.2 252.8L380.35 257L376.05 257Z" fill="none" stroke="#b31ff2" stroke-width="1.15"/><rect x="377.4" y="230.2" width="3.6" height="3.6" fill="none" stroke="#e8334c" stroke-width="1.1"/><circle cx="379.7" cy="123.5" r="2.05" fill="none" stroke="#e8334c" stroke-width="1.1"/><path d="M379.8 204.2V209.2" fill="none" stroke="#e0700f" stroke-width="1.15"/><path d="M377.85 205.15L381.75 208.25M377.85 208.25L381.75 205.15" fill="none" stroke="#e0700f" stroke-width="1"/><rect x="378.78" y="244.35" width="2.24" height="5.1" fill="none" stroke="#e0700f" stroke-width="1"/><path d="M378 176.2H383M380.5 173.7V178.7" fill="none" stroke="#2db52d" stroke-width="1"/><circle cx="380.7" cy="202.9" r="2" fill="#2b6cf2"/><rect x="379.3" y="187.9" width="3.6" height="3.6" fill="#2b6cf2"/><path d="M378.8 182.6H383.8M381.3 180.1V185.1" fill="none" stroke="#e8334c" stroke-width="1"/><path d="M381.9 261.45L384.15 266.35L379.65 266.35Z" fill="#e0700f"/><circle cx="382" cy="215.1" r="2" fill="#000"/><circle cx="382.6" cy="203" r="2" fill="#2b6cf2"/><rect x="381.7" y="232.9" width="3.6" height="3.6" fill="none" stroke="#e8334c" stroke-width="1.1"/><path d="M384.1 240.9L386.25 245.1L381.95 245.1Z" fill="none" stroke="#2db52d" stroke-width="1.15"/><circle cx="384.4" cy="202.3" r="2" fill="#2b6cf2"/><path d="M385 254.3L387.15 258.5L382.85 258.5Z" fill="none" stroke="#b31ff2" stroke-width="1.15"/><rect x="383.2" y="257.1" width="3.6" height="3.6" fill="none" stroke="#b31ff2" stroke-width="1.1"/><path d="M385.1 204.8V209.8" fill="none" stroke="#e0700f" stroke-width="1.15"/><path d="M383.15 205.75L387.05 208.85M383.15 208.85L387.05 205.75" fill="none" stroke="#e0700f" stroke-width="1"/><circle cx="385.2" cy="200.4" r="2" fill="#2b6cf2"/><circle cx="386.5" cy="199.5" r="2" fill="#2b6cf2"/><circle cx="386.7" cy="132.5" r="2.05" fill="none" stroke="#e8334c" stroke-width="1.1"/><rect x="385.58" y="243.25" width="2.24" height="5.1" fill="none" stroke="#e0700f" stroke-width="1"/><rect x="385.5" y="156.2" width="3.6" height="3.6" fill="#e0700f"/><path d="M387.3 162.35L389.55 167.25L385.05 167.25Z" fill="#2b6cf2"/><path d="M384.9 187.4H389.9M387.4 184.9V189.9" fill="none" stroke="#e8334c" stroke-width="1"/><rect x="386.1" y="235.2" width="3.6" height="3.6" fill="none" stroke="#e8334c" stroke-width="1.1"/><circle cx="388" cy="217.2" r="2" fill="#000"/><circle cx="388.5" cy="199.2" r="2" fill="#2b6cf2"/></g>
<g><path d="M389.5 265.25L391.75 270.15L387.25 270.15Z" fill="#e0700f"/><rect x="388.6" y="186.1" width="3.6" height="3.6" fill="#2b6cf2"/><path d="M390.4 256.3L392.55 260.5L388.25 260.5Z" fill="none" stroke="#b31ff2" stroke-width="1.15"/><path d="M390.5 208.1V213.1" fill="none" stroke="#e0700f" stroke-width="1.15"/><path d="M388.55 209.05L392.45 212.15M388.55 212.15L392.45 209.05" fill="none" stroke="#e0700f" stroke-width="1"/><circle cx="390.5" cy="199" r="2" fill="#2b6cf2"/><path d="M388.5 170.9H393.5M391 168.4V173.4" fill="none" stroke="#2db52d" stroke-width="1"/><rect x="390.6" y="237.5" width="3.6" height="3.6" fill="none" stroke="#e8334c" stroke-width="1.1"/><circle cx="392.4" cy="131.1" r="2.05" fill="none" stroke="#e8334c" stroke-width="1.1"/><circle cx="392.5" cy="199.3" r="2" fill="#2b6cf2"/><path d="M391 190.5H396M393.5 188V193" fill="none" stroke="#e8334c" stroke-width="1"/><rect x="392.68" y="241.45" width="2.24" height="5.1" fill="none" stroke="#e0700f" stroke-width="1"/><path d="M394.1 250.3L396.25 254.5L391.95 254.5Z" fill="none" stroke="#2db52d" stroke-width="1.15"/><rect x="392.3" y="263.4" width="3.6" height="3.6" fill="none" stroke="#b31ff2" stroke-width="1.1"/><circle cx="394.2" cy="218.8" r="2" fill="#000"/><circle cx="394.2" cy="199.8" r="2" fill="#2b6cf2"/><path d="M392.9 104.5H397.9M395.4 102V107" fill="none" stroke="#b31ff2" stroke-width="1"/><path d="M395.6 218.6V223.6" fill="none" stroke="#e0700f" stroke-width="1.15"/><path d="M393.65 219.55L397.55 222.65M393.65 222.65L397.55 219.55" fill="none" stroke="#e0700f" stroke-width="1"/><path d="M395.6 158.95L397.85 163.85L393.35 163.85Z" fill="#2b6cf2"/><rect x="394.4" y="160" width="3.6" height="3.6" fill="#e0700f"/><path d="M396.3 269.05L398.55 273.95L394.05 273.95Z" fill="#e0700f"/><path d="M396.3 257.8L398.45 262L394.15 262Z" fill="none" stroke="#b31ff2" stroke-width="1.15"/><rect x="395.2" y="239.5" width="3.6" height="3.6" fill="none" stroke="#e8334c" stroke-width="1.1"/><rect x="396.9" y="184.3" width="3.6" height="3.6" fill="#2b6cf2"/><circle cx="399.3" cy="123.3" r="2.05" fill="none" stroke="#e8334c" stroke-width="1.1"/><circle cx="399.6" cy="220.5" r="2" fill="#000"/><path d="M397.1 215.7H402.1M399.6 213.2V218.2" fill="none" stroke="#e8334c" stroke-width="1"/><path d="M398.4 165.7H403.4M400.9 163.2V168.2" fill="none" stroke="#2db52d" stroke-width="1"/><path d="M401 259.7L403.15 263.9L398.85 263.9Z" fill="none" stroke="#b31ff2" stroke-width="1.15"/><rect x="399.6" y="240.9" width="3.6" height="3.6" fill="none" stroke="#e8334c" stroke-width="1.1"/><rect x="400.28" y="240.15" width="2.24" height="5.1" fill="none" stroke="#e0700f" stroke-width="1"/><path d="M402.3 272.75L404.55 277.65L400.05 277.65Z" fill="#e0700f"/><path d="M402.3 220.5V225.5" fill="none" stroke="#e0700f" stroke-width="1.15"/><path d="M400.35 221.45L404.25 224.55M400.35 224.55L404.25 221.45" fill="none" stroke="#e0700f" stroke-width="1"/><rect x="400.5" y="269.7" width="3.6" height="3.6" fill="none" stroke="#b31ff2" stroke-width="1.1"/><rect x="402.2" y="162.1" width="3.6" height="3.6" fill="#e0700f"/><path d="M404.2 252.2L406.35 256.4L402.05 256.4Z" fill="none" stroke="#2db52d" stroke-width="1.15"/><path d="M404.2 189.55L406.45 194.45L401.95 194.45Z" fill="#2b6cf2"/><circle cx="404.9" cy="220.5" r="2" fill="#000"/><path d="M402.7 240H407.7M405.2 237.5V242.5" fill="none" stroke="#e8334c" stroke-width="1"/><rect x="403.6" y="242.6" width="3.6" height="3.6" fill="none" stroke="#e8334c" stroke-width="1.1"/><path d="M405.4 261L407.55 265.2L403.25 265.2Z" fill="none" stroke="#b31ff2" stroke-width="1.15"/></g>
<g><circle cx="406.3" cy="125.6" r="2.05" fill="none" stroke="#e8334c" stroke-width="1.1"/><path d="M406.5 274.65L408.75 279.55L404.25 279.55Z" fill="#e0700f"/><path d="M405 104.5H410M407.5 102V107" fill="none" stroke="#b31ff2" stroke-width="1"/><rect x="406.2" y="182.3" width="3.6" height="3.6" fill="#2b6cf2"/><rect x="408.28" y="239.75" width="2.24" height="5.1" fill="none" stroke="#e0700f" stroke-width="1"/><path d="M409.6 220.1V225.1" fill="none" stroke="#e0700f" stroke-width="1.15"/><path d="M407.65 221.05L411.55 224.15M407.65 224.15L411.55 221.05" fill="none" stroke="#e0700f" stroke-width="1"/><rect x="408.1" y="243.8" width="3.6" height="3.6" fill="none" stroke="#e8334c" stroke-width="1.1"/><path d="M409.9 261.8L412.05 266L407.75 266Z" fill="none" stroke="#b31ff2" stroke-width="1.15"/><circle cx="410" cy="222.6" r="2" fill="#000"/><path d="M410.3 276.55L412.55 281.45L408.05 281.45Z" fill="#e0700f"/><path d="M408 164.4H413M410.5 161.9V166.9" fill="none" stroke="#2db52d" stroke-width="1"/><rect x="409" y="273.5" width="3.6" height="3.6" fill="none" stroke="#b31ff2" stroke-width="1.1"/><circle cx="412.4" cy="134.4" r="2.05" fill="none" stroke="#e8334c" stroke-width="1.1"/><path d="M412.4 208.25L414.65 213.15L410.15 213.15Z" fill="#2b6cf2"/><path d="M410 227.6H415M412.5 225.1V230.1" fill="none" stroke="#e8334c" stroke-width="1"/><rect x="411.2" y="165.5" width="3.6" height="3.6" fill="#e0700f"/><path d="M413.8 278.35L416.05 283.25L411.55 283.25Z" fill="#e0700f"/><path d="M414 252.5L416.15 256.7L411.85 256.7Z" fill="none" stroke="#2db52d" stroke-width="1.15"/><path d="M414.3 263.2L416.45 267.4L412.15 267.4Z" fill="none" stroke="#b31ff2" stroke-width="1.15"/><rect x="412.6" y="244.5" width="3.6" height="3.6" fill="none" stroke="#e8334c" stroke-width="1.1"/><circle cx="415.3" cy="225.1" r="2" fill="#000"/><path d="M415.9 223.6V228.6" fill="none" stroke="#e0700f" stroke-width="1.15"/><path d="M413.95 224.55L417.85 227.65M413.95 227.65L417.85 224.55" fill="none" stroke="#e0700f" stroke-width="1"/><rect x="415.78" y="239.15" width="2.24" height="5.1" fill="none" stroke="#e0700f" stroke-width="1"/><rect x="416.1" y="181.1" width="3.6" height="3.6" fill="#2b6cf2"/><path d="M418.2 264.4L420.35 268.6L416.05 268.6Z" fill="none" stroke="#b31ff2" stroke-width="1.15"/><circle cx="418.3" cy="138.4" r="2.05" fill="none" stroke="#e8334c" stroke-width="1.1"/><rect x="417" y="277.7" width="3.6" height="3.6" fill="none" stroke="#b31ff2" stroke-width="1.1"/><rect x="417.1" y="244.7" width="3.6" height="3.6" fill="none" stroke="#e8334c" stroke-width="1.1"/><path d="M417.3 156.3H422.3M419.8 153.8V158.8" fill="none" stroke="#2db52d" stroke-width="1"/><path d="M417.4 216.9H422.4M419.9 214.4V219.4" fill="none" stroke="#e8334c" stroke-width="1"/><path d="M417.5 104.5H422.5M420 102V107" fill="none" stroke="#b31ff2" stroke-width="1"/><path d="M420.6 180.05L422.85 184.95L418.35 184.95Z" fill="#2b6cf2"/><circle cx="420.7" cy="227" r="2" fill="#000"/><path d="M420.7 278.95L422.95 283.85L418.45 283.85Z" fill="#e0700f"/><rect x="418.9" y="167.7" width="3.6" height="3.6" fill="#e0700f"/><circle cx="421.6" cy="253.7" r="2" fill="#e0700f"/><path d="M422.6 265.6L424.75 269.8L420.45 269.8Z" fill="none" stroke="#b31ff2" stroke-width="1.15"/><circle cx="423.5" cy="142.5" r="2.05" fill="none" stroke="#e8334c" stroke-width="1.1"/><path d="M423.5 238.3V243.3" fill="none" stroke="#e0700f" stroke-width="1.15"/><path d="M421.55 239.25L425.45 242.35M421.55 242.35L425.45 239.25" fill="none" stroke="#e0700f" stroke-width="1"/><path d="M423.8 279.65L426.05 284.55L421.55 284.55Z" fill="#e0700f"/></g>
<g><path d="M423.8 240.2L425.95 244.4L421.65 244.4Z" fill="none" stroke="#2db52d" stroke-width="1.15"/><circle cx="424.5" cy="271" r="2" fill="#e0700f"/><rect x="423.88" y="238.55" width="2.24" height="5.1" fill="none" stroke="#e0700f" stroke-width="1"/><circle cx="425.6" cy="228" r="2" fill="#000"/><path d="M426.3 266.5L428.45 270.7L424.15 270.7Z" fill="none" stroke="#b31ff2" stroke-width="1.15"/><rect x="424.5" y="280.6" width="3.6" height="3.6" fill="none" stroke="#b31ff2" stroke-width="1.1"/><path d="M424.1 221.3H429.1M426.6 218.8V223.8" fill="none" stroke="#e8334c" stroke-width="1"/><rect x="425.7" y="165.8" width="3.6" height="3.6" fill="#e0700f"/><path d="M427.6 280.85L429.85 285.75L425.35 285.75Z" fill="#e0700f"/><rect x="426.4" y="178.9" width="3.6" height="3.6" fill="#2b6cf2"/><path d="M428.5 250.2V255.2" fill="none" stroke="#e0700f" stroke-width="1.15"/><path d="M426.55 251.15L430.45 254.25M426.55 254.25L430.45 251.15" fill="none" stroke="#e0700f" stroke-width="1"/><path d="M426 145.3H431M428.5 142.8V147.8" fill="none" stroke="#2db52d" stroke-width="1"/><path d="M429.5 281.45L431.75 286.35L427.25 286.35Z" fill="#e0700f"/><path d="M429.7 165.25L431.95 170.15L427.45 170.15Z" fill="#2b6cf2"/><circle cx="430.1" cy="280.8" r="2" fill="#e0700f"/><path d="M430.1 267.4L432.25 271.6L427.95 271.6Z" fill="none" stroke="#b31ff2" stroke-width="1.15"/><path d="M429.8 103.4H434.8M432.3 100.9V105.9" fill="none" stroke="#b31ff2" stroke-width="1"/><path d="M432.6 282.15L434.85 287.05L430.35 287.05Z" fill="#e0700f"/><rect x="431.88" y="237.95" width="2.24" height="5.1" fill="none" stroke="#e0700f" stroke-width="1"/><path d="M433 242.6L435.15 246.8L430.85 246.8Z" fill="none" stroke="#2db52d" stroke-width="1.15"/><rect x="431.5" y="280.6" width="3.6" height="3.6" fill="none" stroke="#b31ff2" stroke-width="1.1"/><rect x="431.8" y="162.4" width="3.6" height="3.6" fill="#e0700f"/><path d="M433.9 268.4L436.05 272.6L431.75 272.6Z" fill="none" stroke="#b31ff2" stroke-width="1.15"/><path d="M431.9 230.3H436.9M434.4 227.8V232.8" fill="none" stroke="#e8334c" stroke-width="1"/><path d="M435.1 256.1V261.1" fill="none" stroke="#e0700f" stroke-width="1.15"/><path d="M433.15 257.05L437.05 260.15M433.15 260.15L437.05 257.05" fill="none" stroke="#e0700f" stroke-width="1"/><circle cx="435.1" cy="272.9" r="2" fill="#e0700f"/><path d="M437.3 164.85L439.55 169.75L435.05 169.75Z" fill="#2b6cf2"/><rect x="436.3" y="176.9" width="3.6" height="3.6" fill="#2b6cf2"/><rect x="437.18" y="237.45" width="2.24" height="5.1" fill="none" stroke="#e0700f" stroke-width="1"/><path d="M436.3 138.5H441.3M438.8 136V141" fill="none" stroke="#2db52d" stroke-width="1"/><circle cx="440.6" cy="266.4" r="2" fill="#e0700f"/><rect x="438.8" y="282.5" width="3.6" height="3.6" fill="none" stroke="#b31ff2" stroke-width="1.1"/><path d="M441.1 240.1L443.25 244.3L438.95 244.3Z" fill="none" stroke="#2db52d" stroke-width="1.15"/><path d="M441.2 259V264" fill="none" stroke="#e0700f" stroke-width="1.15"/><path d="M439.25 259.95L443.15 263.05M439.25 263.05L443.15 259.95" fill="none" stroke="#e0700f" stroke-width="1"/><path d="M444.1 171.85L446.35 176.75L441.85 176.75Z" fill="#2b6cf2"/><rect x="443.08" y="238.25" width="2.24" height="5.1" fill="none" stroke="#e0700f" stroke-width="1"/><path d="M441.8 94.5H446.8M444.3 92V97" fill="none" stroke="#b31ff2" stroke-width="1"/><path d="M443.3 248.6H448.3M445.8 246.1V251.1" fill="none" stroke="#e8334c" stroke-width="1"/><path d="M446.5 261.1V266.1" fill="none" stroke="#e0700f" stroke-width="1.15"/><path d="M444.55 262.05L448.45 265.15M444.55 265.15L448.45 262.05" fill="none" stroke="#e0700f" stroke-width="1"/><circle cx="447.3" cy="271.3" r="2" fill="#e0700f"/></g>
<g><rect x="445.5" y="285.3" width="3.6" height="3.6" fill="none" stroke="#b31ff2" stroke-width="1.1"/><rect x="446.2" y="176.6" width="3.6" height="3.6" fill="#2b6cf2"/><rect x="447.68" y="239.45" width="2.24" height="5.1" fill="none" stroke="#e0700f" stroke-width="1"/><path d="M449.2 246.9L451.35 251.1L447.05 251.1Z" fill="none" stroke="#2db52d" stroke-width="1.15"/><path d="M447 134.6H452M449.5 132.1V137.1" fill="none" stroke="#2db52d" stroke-width="1"/><path d="M451.1 187.25L453.35 192.15L448.85 192.15Z" fill="#2b6cf2"/><path d="M451.6 264.7V269.7" fill="none" stroke="#e0700f" stroke-width="1.15"/><path d="M449.65 265.65L453.55 268.75M449.65 268.75L453.55 265.65" fill="none" stroke="#e0700f" stroke-width="1"/><path d="M452.1 247.2L454.25 251.4L449.95 251.4Z" fill="none" stroke="#2db52d" stroke-width="1.15"/><path d="M450.9 256.4H455.9M453.4 253.9V258.9" fill="none" stroke="#e8334c" stroke-width="1"/><rect x="452.88" y="241.05" width="2.24" height="5.1" fill="none" stroke="#e0700f" stroke-width="1"/><rect x="452.2" y="288.2" width="3.6" height="3.6" fill="none" stroke="#b31ff2" stroke-width="1.1"/><circle cx="454.9" cy="259.8" r="2" fill="#e0700f"/><path d="M453 97.2H458M455.5 94.7V99.7" fill="none" stroke="#b31ff2" stroke-width="1"/><path d="M457.2 268.7V273.7" fill="none" stroke="#e0700f" stroke-width="1.15"/><path d="M455.25 269.65L459.15 272.75M455.25 272.75L459.15 269.65" fill="none" stroke="#e0700f" stroke-width="1"/><path d="M457.8 249.7L459.95 253.9L455.65 253.9Z" fill="none" stroke="#2db52d" stroke-width="1.15"/><path d="M457.8 193.95L460.05 198.85L455.55 198.85Z" fill="#2b6cf2"/><rect x="456" y="177.2" width="3.6" height="3.6" fill="#2b6cf2"/><path d="M456 138.1H461M458.5 135.6V140.6" fill="none" stroke="#2db52d" stroke-width="1"/><path d="M456.9 263.6H461.9M459.4 261.1V266.1" fill="none" stroke="#e8334c" stroke-width="1"/><path d="M459.7 244.6L461.85 248.8L457.55 248.8Z" fill="none" stroke="#2db52d" stroke-width="1.15"/><path d="M460.3 239.6L462.45 243.8L458.15 243.8Z" fill="none" stroke="#2db52d" stroke-width="1.15"/><path d="M460.9 270.4V275.4" fill="none" stroke="#e0700f" stroke-width="1.15"/><path d="M458.95 271.35L462.85 274.45M458.95 274.45L462.85 271.35" fill="none" stroke="#e0700f" stroke-width="1"/><rect x="459.2" y="288.8" width="3.6" height="3.6" fill="none" stroke="#b31ff2" stroke-width="1.1"/><path d="M461.2 249.7L463.35 253.9L459.05 253.9Z" fill="none" stroke="#2db52d" stroke-width="1.15"/><rect x="460.78" y="244.85" width="2.24" height="5.1" fill="none" stroke="#e0700f" stroke-width="1"/><circle cx="462.4" cy="266.1" r="2" fill="#e0700f"/><path d="M462.8 239.6L464.95 243.8L460.65 243.8Z" fill="none" stroke="#2db52d" stroke-width="1.15"/><path d="M464 192.55L466.25 197.45L461.75 197.45Z" fill="#2b6cf2"/><path d="M461.6 270.1H466.6M464.1 267.6V272.6" fill="none" stroke="#e8334c" stroke-width="1"/><path d="M465.5 271.5V276.5" fill="none" stroke="#e0700f" stroke-width="1.15"/><path d="M463.55 272.45L467.45 275.55M463.55 275.55L467.45 272.45" fill="none" stroke="#e0700f" stroke-width="1"/><path d="M463.9 100.2H468.9M466.4 97.7V102.7" fill="none" stroke="#b31ff2" stroke-width="1"/><path d="M464.4 275.6H469.4M466.9 273.1V278.1" fill="none" stroke="#e8334c" stroke-width="1"/><path d="M464.5 138.4H469.5M467 135.9V140.9" fill="none" stroke="#2db52d" stroke-width="1"/><rect x="465.2" y="180.9" width="3.6" height="3.6" fill="#2b6cf2"/><rect x="465.4" y="289.6" width="3.6" height="3.6" fill="none" stroke="#b31ff2" stroke-width="1.1"/><circle cx="468.5" cy="255.1" r="2" fill="#e0700f"/><path d="M469.3 271.9V276.9" fill="none" stroke="#e0700f" stroke-width="1.15"/><path d="M467.35 272.85L471.25 275.95M467.35 275.95L471.25 272.85" fill="none" stroke="#e0700f" stroke-width="1"/><path d="M470.1 196.45L472.35 201.35L467.85 201.35Z" fill="#2b6cf2"/><path d="M468.2 280.4H473.2M470.7 277.9V282.9" fill="none" stroke="#e8334c" stroke-width="1"/><rect x="471.2" y="292.2" width="3.6" height="3.6" fill="none" stroke="#b31ff2" stroke-width="1.1"/></g>
<g><path d="M473.1 272.1V277.1" fill="none" stroke="#e0700f" stroke-width="1.15"/><path d="M471.15 273.05L475.05 276.15M471.15 276.15L475.05 273.05" fill="none" stroke="#e0700f" stroke-width="1"/><circle cx="473.8" cy="257.8" r="2" fill="#e0700f"/><path d="M472.7 149H477.7M475.2 146.5V151.5" fill="none" stroke="#2db52d" stroke-width="1"/><path d="M472.9 288.7H477.9M475.4 286.2V291.2" fill="none" stroke="#e8334c" stroke-width="1"/><rect x="473.6" y="184.8" width="3.6" height="3.6" fill="#2b6cf2"/><path d="M476.2 208.25L478.45 213.15L473.95 213.15Z" fill="#2b6cf2"/><path d="M473.7 105.2H478.7M476.2 102.7V107.7" fill="none" stroke="#b31ff2" stroke-width="1"/><path d="M476.8 272V277" fill="none" stroke="#e0700f" stroke-width="1.15"/><path d="M474.85 272.95L478.75 276.05M474.85 276.05L478.75 272.95" fill="none" stroke="#e0700f" stroke-width="1"/><rect x="475.2" y="294.7" width="3.6" height="3.6" fill="none" stroke="#b31ff2" stroke-width="1.1"/><circle cx="477.8" cy="271.3" r="2" fill="#e0700f"/><path d="M476.7 295.9H481.7M479.2 293.4V298.4" fill="none" stroke="#e8334c" stroke-width="1"/><path d="M479.5 271.7V276.7" fill="none" stroke="#e0700f" stroke-width="1.15"/><path d="M477.55 272.65L481.45 275.75M477.55 275.75L481.45 272.65" fill="none" stroke="#e0700f" stroke-width="1"/><rect x="479.6" y="295.9" width="3.6" height="3.6" fill="none" stroke="#b31ff2" stroke-width="1.1"/><circle cx="482" cy="264.1" r="2" fill="#e0700f"/><path d="M482.1 210.95L484.35 215.85L479.85 215.85Z" fill="#2b6cf2"/><path d="M479.9 297.1H484.9M482.4 294.6V299.6" fill="none" stroke="#e8334c" stroke-width="1"/><path d="M480.9 163.1H485.9M483.4 160.6V165.6" fill="none" stroke="#2db52d" stroke-width="1"/><rect x="482.6" y="191.1" width="3.6" height="3.6" fill="#2b6cf2"/><path d="M483.1 297.4H488.1M485.6 294.9V299.9" fill="none" stroke="#e8334c" stroke-width="1"/><path d="M483.5 112.3H488.5M486 109.8V114.8" fill="none" stroke="#b31ff2" stroke-width="1"/><circle cx="487.5" cy="267.4" r="2" fill="#e0700f"/><path d="M488.2 208.45L490.45 213.35L485.95 213.35Z" fill="#2b6cf2"/><path d="M486.2 297.4H491.2M488.7 294.9V299.9" fill="none" stroke="#e8334c" stroke-width="1"/><path d="M488.9 170.3H493.9M491.4 167.8V172.8" fill="none" stroke="#2db52d" stroke-width="1"/><path d="M489.4 297.4H494.4M491.9 294.9V299.9" fill="none" stroke="#e8334c" stroke-width="1"/><circle cx="493.5" cy="266.6" r="2" fill="#e0700f"/><rect x="491.8" y="197.7" width="3.6" height="3.6" fill="#2b6cf2"/><path d="M493.7 209.85L495.95 214.75L491.45 214.75Z" fill="#2b6cf2"/><path d="M491.9 117.4H496.9M494.4 114.9V119.9" fill="none" stroke="#b31ff2" stroke-width="1"/><path d="M492.1 297.7H497.1M494.6 295.2V300.2" fill="none" stroke="#e8334c" stroke-width="1"/><path d="M494 174.3H499M496.5 171.8V176.8" fill="none" stroke="#2db52d" stroke-width="1"/><path d="M498.8 218.25L501.05 223.15L496.55 223.15Z" fill="#2b6cf2"/><circle cx="501.1" cy="265.8" r="2" fill="#e0700f"/><path d="M498.6 174.3H503.6M501.1 171.8V176.8" fill="none" stroke="#2db52d" stroke-width="1"/><rect x="499.5" y="203.3" width="3.6" height="3.6" fill="#2b6cf2"/><path d="M500.1 115.4H505.1M502.6 112.9V117.9" fill="none" stroke="#b31ff2" stroke-width="1"/><path d="M504.3 225.15L506.55 230.05L502.05 230.05Z" fill="#2b6cf2"/><path d="M503.7 178.6H508.7M506.2 176.1V181.1" fill="none" stroke="#2db52d" stroke-width="1"/><circle cx="507.9" cy="266.8" r="2" fill="#e0700f"/><rect x="506.2" y="208.9" width="3.6" height="3.6" fill="#2b6cf2"/></g>
<g><path d="M510.3 234.35L512.55 239.25L508.05 239.25Z" fill="#2b6cf2"/><path d="M508.6 184H513.6M511.1 181.5V186.5" fill="none" stroke="#2db52d" stroke-width="1"/><path d="M508.6 122.3H513.6M511.1 119.8V124.8" fill="none" stroke="#b31ff2" stroke-width="1"/><circle cx="514" cy="270.9" r="2" fill="#e0700f"/><rect x="512.9" y="211.7" width="3.6" height="3.6" fill="#2b6cf2"/><path d="M512.3 199.2H517.3M514.8 196.7V201.7" fill="none" stroke="#2db52d" stroke-width="1"/><path d="M515.5 243.75L517.75 248.65L513.25 248.65Z" fill="#2b6cf2"/><path d="M515.8 129H520.8M518.3 126.5V131.5" fill="none" stroke="#b31ff2" stroke-width="1"/><path d="M516 207.3H521M518.5 204.8V209.8" fill="none" stroke="#2db52d" stroke-width="1"/><circle cx="520" cy="261.6" r="2" fill="#e0700f"/><rect x="519" y="215.9" width="3.6" height="3.6" fill="#2b6cf2"/><path d="M521 251.15L523.25 256.05L518.75 256.05Z" fill="#2b6cf2"/><path d="M522.9 125.3H527.9M525.4 122.8V127.8" fill="none" stroke="#b31ff2" stroke-width="1"/><path d="M526 255.85L528.25 260.75L523.75 260.75Z" fill="#2b6cf2"/><rect x="524.2" y="219.6" width="3.6" height="3.6" fill="#2b6cf2"/><circle cx="526.2" cy="271.7" r="2" fill="#e0700f"/><path d="M530.9 258.15L533.15 263.05L528.65 263.05Z" fill="#2b6cf2"/><rect x="529.9" y="222.5" width="3.6" height="3.6" fill="#2b6cf2"/><circle cx="532.2" cy="287.6" r="2" fill="#e0700f"/><path d="M530.1 115.4H535.1M532.6 112.9V117.9" fill="none" stroke="#b31ff2" stroke-width="1"/><rect x="533.4" y="225.2" width="3.6" height="3.6" fill="#2b6cf2"/><path d="M536 258.95L538.25 263.85L533.75 263.85Z" fill="#2b6cf2"/><circle cx="537.7" cy="297" r="2" fill="#e0700f"/><path d="M536.6 120.3H541.6M539.1 117.8V122.8" fill="none" stroke="#b31ff2" stroke-width="1"/><path d="M540.5 262.35L542.75 267.25L538.25 267.25Z" fill="#2b6cf2"/><circle cx="542.9" cy="298.9" r="2" fill="#e0700f"/><path d="M545 265.25L547.25 270.15L542.75 270.15Z" fill="#2b6cf2"/><path d="M543.3 128.4H548.3M545.8 125.9V130.9" fill="none" stroke="#b31ff2" stroke-width="1"/><circle cx="548.1" cy="304.2" r="2" fill="#e0700f"/><path d="M550.3 269.05L552.55 273.95L548.05 273.95Z" fill="#2b6cf2"/><circle cx="552.8" cy="308.6" r="2" fill="#e0700f"/><path d="M550.8 146.6H555.8M553.3 144.1V149.1" fill="none" stroke="#b31ff2" stroke-width="1"/><path d="M554.3 272.15L556.55 277.05L552.05 277.05Z" fill="#2b6cf2"/><circle cx="557.2" cy="308.3" r="2" fill="#e0700f"/><path d="M557.8 155.4H562.8M560.3 152.9V157.9" fill="none" stroke="#b31ff2" stroke-width="1"/><circle cx="560.9" cy="308.3" r="2" fill="#e0700f"/><circle cx="564.7" cy="308.3" r="2" fill="#e0700f"/><path d="M563.7 160.3H568.7M566.2 157.8V162.8" fill="none" stroke="#b31ff2" stroke-width="1"/><circle cx="567.8" cy="308.3" r="2" fill="#e0700f"/><circle cx="570.6" cy="307.7" r="2" fill="#e0700f"/></g>
<g><path d="M568.8 165.4H573.8M571.3 162.9V167.9" fill="none" stroke="#b31ff2" stroke-width="1"/><path d="M573.7 170.1H578.7M576.2 167.6V172.6" fill="none" stroke="#b31ff2" stroke-width="1"/><path d="M576.8 174.6H581.8M579.3 172.1V177.1" fill="none" stroke="#b31ff2" stroke-width="1"/><path d="M580.5 186.4H585.5M583 183.9V188.9" fill="none" stroke="#b31ff2" stroke-width="1"/><path d="M581.9 216.8H586.9M584.4 214.3V219.3" fill="none" stroke="#b31ff2" stroke-width="1"/><path d="M583.7 218.8H588.7M586.2 216.3V221.3" fill="none" stroke="#b31ff2" stroke-width="1"/><path d="M585.8 221.5H590.8M588.3 219V224" fill="none" stroke="#b31ff2" stroke-width="1"/><path d="M587.6 223.9H592.6M590.1 221.4V226.4" fill="none" stroke="#b31ff2" stroke-width="1"/><path d="M589.5 227H594.5M592 224.5V229.5" fill="none" stroke="#b31ff2" stroke-width="1"/></g>
<path d="M58.5 58.8C60.0 59.9 64.0 63.0 67.6 65.7C71.2 68.4 76.9 72.6 80.1 75.1C83.2 77.6 84.4 78.8 86.5 80.7C88.6 82.6 90.6 84.4 92.7 86.2C94.8 88.0 96.9 89.7 99.0 91.3C101.1 92.9 103.0 94.3 105.3 95.9C107.6 97.5 110.3 99.2 113.0 100.9C115.7 102.6 118.4 104.0 121.5 105.9C124.6 107.9 128.4 110.3 131.8 112.6C135.2 114.9 138.6 117.4 142.0 119.7C145.4 122.0 148.6 124.2 152.0 126.3C155.4 128.4 159.6 130.8 162.6 132.5C165.6 134.2 167.1 134.9 170.0 136.2C172.9 137.5 176.4 139.2 179.8 140.5C183.2 141.8 187.0 142.8 190.4 143.8C193.8 144.8 196.6 145.4 200.0 146.3C203.4 147.2 207.6 148.2 210.9 149.1C214.2 150.0 217.2 150.9 220.0 151.8C222.8 152.7 224.2 153.0 227.6 154.5C230.9 156.0 235.9 158.6 240.1 160.8C244.3 163.0 248.5 165.5 252.7 167.7C256.9 169.8 261.5 171.9 265.3 173.7C269.1 175.4 271.3 176.4 275.4 178.2C279.5 180.0 285.6 182.8 290.0 184.6C294.4 186.4 297.6 187.4 301.8 188.9C306.0 190.4 310.8 192.0 315.1 193.3C319.4 194.7 323.5 195.8 327.7 197.0C331.9 198.2 336.1 199.5 340.3 200.6C344.5 201.7 348.8 202.8 352.9 203.7C357.0 204.6 360.9 205.1 365.0 206.0C369.1 206.9 373.4 208.1 377.6 209.2C381.8 210.3 385.9 211.3 390.1 212.6C394.3 213.9 398.5 215.5 402.7 217.2C406.9 218.9 411.1 221.3 415.3 223.0C419.5 224.7 423.7 226.2 427.9 227.4C432.1 228.6 436.3 229.3 440.4 230.3C444.5 231.3 449.0 232.5 452.6 233.3C456.2 234.1 459.4 234.9 462.0 235.3C464.6 235.8 466.5 236.0 468.5 236.0C470.5 236.0 472.1 235.8 474.0 235.4C475.9 235.0 477.3 234.5 480.0 233.3C482.7 232.1 487.0 229.8 490.3 228.3C493.6 226.8 497.0 225.4 500.0 224.4C503.0 223.4 505.6 222.8 508.2 222.3C510.8 221.9 513.4 221.6 515.4 221.7C517.4 221.8 518.6 222.0 520.4 222.6C522.2 223.2 524.1 223.9 526.0 225.1C527.9 226.2 529.5 227.9 532.0 229.5C534.5 231.1 537.7 233.3 540.9 234.4C544.1 235.5 547.7 235.7 551.1 235.8C554.5 235.9 557.9 235.6 561.3 234.8C564.7 234.0 568.1 232.7 571.5 231.1C574.9 229.5 578.3 227.3 581.7 225.0C585.1 222.7 590.3 218.5 592.0 217.2" fill="none" stroke="#000" stroke-width="1.55" stroke-linejoin="round" stroke-linecap="round"/>
<g font-size="5.15" fill="#000" stroke="#000" stroke-width="0.12">
<text x="618.5" y="4.20" font-weight="bold" textLength="71.4" lengthAdjust="spacingAndGlyphs">North Africa and Middle East</text>
<text x="618.5" y="10.75">Afghanistan</text>
<text x="618.5" y="17.30">Algeria</text>
<text x="618.5" y="23.84">Bahrain</text>
<text x="618.5" y="30.39">Egypt</text>
<text x="618.5" y="36.94">Iran (Islamic Republic of)</text>
<text x="618.5" y="43.49">Iraq</text>
<text x="618.5" y="50.04">Jordan</text>
<text x="618.5" y="56.58">Kuwait</text>
<text x="618.5" y="63.13">Lebanon</text>
<text x="618.5" y="69.68">Libya</text>
<text x="618.5" y="76.23">Morocco</text>
<text x="618.5" y="82.78">Oman</text>
<text x="618.5" y="89.32">Palestine</text>
<text x="618.5" y="95.87">Qatar</text>
<text x="618.5" y="102.42">Saudi Arabia</text>
<text x="618.5" y="108.97">Sudan</text>
<text x="618.5" y="115.52">Syrian Arab Republic</text>
<text x="618.5" y="122.06">Tunisia</text>
<text x="618.5" y="128.61">Turkey</text>
<text x="618.5" y="135.16">United Arab Emirates</text>
<text x="618.5" y="141.71">Yemen</text>
</g>
<g><circle cx="613.3" cy="2.3" r="1.68" fill="#000"/><path d="M613.3 7.42L615.11 10.95L611.49 10.95Z" fill="none" stroke="#e8334c" stroke-width="0.83"/><rect x="611.79" y="13.88" width="3.02" height="3.02" fill="none" stroke="#e8334c" stroke-width="0.79"/><path d="M611.2 21.94H615.4M613.3 19.84V24.04" fill="none" stroke="#e8334c" stroke-width="0.72"/><circle cx="613.3" cy="28.49" r="1.72" fill="none" stroke="#e8334c" stroke-width="0.79"/><path d="M613.3 32.98L615.19 37.1L611.41 37.1Z" fill="#e0700f"/><rect x="611.79" y="40.08" width="3.02" height="3.02" fill="#e0700f"/><path d="M613.3 46.04V50.24" fill="none" stroke="#e0700f" stroke-width="1.15"/><path d="M611.66 46.83L614.94 49.44M611.66 49.44L614.94 46.83" fill="none" stroke="#e0700f" stroke-width="1"/><circle cx="613.3" cy="54.68" r="1.68" fill="#e0700f"/><rect x="612.36" y="59.09" width="1.88" height="4.28" fill="none" stroke="#e0700f" stroke-width="0.72"/><path d="M613.3 66.35L615.11 69.88L611.49 69.88Z" fill="none" stroke="#2db52d" stroke-width="0.83"/><rect x="611.79" y="72.82" width="3.02" height="3.02" fill="none" stroke="#2db52d" stroke-width="0.79"/><path d="M611.2 80.88H615.4M613.3 78.78V82.98" fill="none" stroke="#2db52d" stroke-width="0.72"/><circle cx="613.3" cy="87.42" r="1.72" fill="none" stroke="#2db52d" stroke-width="0.79"/><path d="M613.3 91.91L615.19 96.03L611.41 96.03Z" fill="#2b6cf2"/><rect x="611.79" y="99.01" width="3.02" height="3.02" fill="#2b6cf2"/><path d="M613.3 104.97V109.17" fill="none" stroke="#2b6cf2" stroke-width="1.15"/><path d="M611.66 105.77L614.94 108.37M611.66 108.37L614.94 105.77" fill="none" stroke="#2b6cf2" stroke-width="1"/><circle cx="613.3" cy="113.62" r="1.68" fill="#2b6cf2"/><path d="M613.3 118.74L615.11 122.26L611.49 122.26Z" fill="none" stroke="#b31ff2" stroke-width="0.83"/><rect x="611.79" y="125.2" width="3.02" height="3.02" fill="none" stroke="#b31ff2" stroke-width="0.79"/><path d="M611.2 133.26H615.4M613.3 131.16V135.36" fill="none" stroke="#b31ff2" stroke-width="0.72"/><circle cx="613.3" cy="139.81" r="1.72" fill="none" stroke="#b31ff2" stroke-width="0.79"/></g>
</svg></body></html>
